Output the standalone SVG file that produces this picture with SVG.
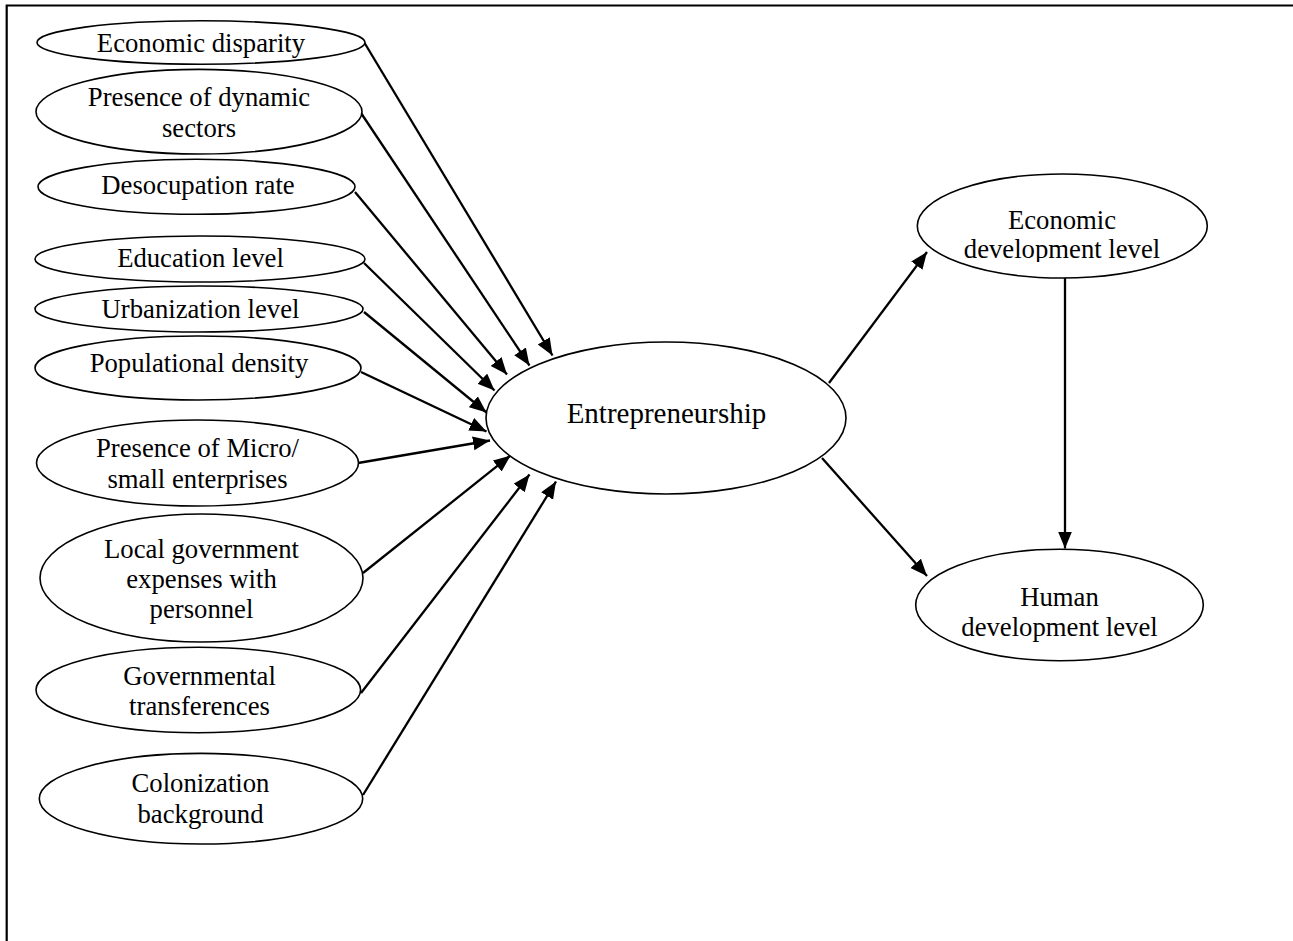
<svg xmlns="http://www.w3.org/2000/svg" width="1293" height="941" viewBox="0 0 1293 941">
<style>
.n ellipse{fill:#fff;stroke:#000;stroke-width:1.6}
text{font-family:"Liberation Serif","Times New Roman",serif;font-size:26.7px;fill:#000;text-anchor:middle}
.e line{stroke:#000;stroke-width:2.3;marker-end:url(#ah)}
.frame{stroke:#000;stroke-width:2.2;fill:none}
</style>
<defs>
<marker id="ah" markerUnits="userSpaceOnUse" markerWidth="19" markerHeight="15" refX="17" refY="7" orient="auto">
<path d="M0,0 L17,7 L0,14 z" fill="#000"/>
</marker>
<clipPath id="clipEco"><rect x="900" y="160" width="320" height="102"/></clipPath>
</defs>
<rect width="1293" height="941" fill="#fff"/>
<path class="frame" d="M6.7,941 L6.7,5.5 L1293,5.5"/>
<g class="e" id="connectors">
<line x1="364" y1="42" x2="552.5" y2="355.5"/>
<line x1="361" y1="113" x2="529.5" y2="365.5"/>
<line x1="355" y1="192" x2="507" y2="374.5"/>
<line x1="364" y1="263" x2="494.5" y2="390.5"/>
<line x1="364" y1="312" x2="486.5" y2="412.5"/>
<line x1="361" y1="372" x2="486.5" y2="431.5"/>
<line x1="358" y1="463" x2="490" y2="440.5"/>
<line x1="363" y1="573" x2="510.5" y2="455.5"/>
<line x1="361" y1="693" x2="529.5" y2="474.5"/>
<line x1="363" y1="795" x2="556" y2="481.5"/>
<line x1="829" y1="383" x2="927" y2="252"/>
<line x1="822" y1="458" x2="927" y2="576"/>
<line x1="1065" y1="276" x2="1065" y2="548.5"/>
</g>
<g class="n" id="n-economic-disparity"><ellipse cx="201" cy="42.5" rx="164" ry="21.7"/><text x="201" y="51.7">Economic disparity</text></g>
<g class="n" id="n-dynamic-sectors"><ellipse cx="199" cy="111.7" rx="163" ry="42.3"/><text x="199" y="106">Presence of dynamic</text><text x="199" y="136.7">sectors</text></g>
<g class="n" id="n-desocupation"><ellipse cx="196.5" cy="186.8" rx="158.5" ry="27.5"/><text x="198" y="194">Desocupation rate</text></g>
<g class="n" id="n-education"><ellipse cx="200" cy="259" rx="165" ry="23"/><text x="200.5" y="267.3">Education level</text></g>
<g class="n" id="n-urbanization"><ellipse cx="199" cy="309" rx="164" ry="23"/><text x="200.5" y="317.7">Urbanization level</text></g>
<g class="n" id="n-populational"><ellipse cx="198" cy="368" rx="163" ry="32"/><text x="199" y="371.7">Populational density</text></g>
<g class="n" id="n-micro"><ellipse cx="197.5" cy="463" rx="161" ry="43"/><text x="197.5" y="457.3">Presence of Micro/</text><text x="197.5" y="488.3">small enterprises</text></g>
<g class="n" id="n-local-gov"><ellipse cx="201.5" cy="578" rx="161.5" ry="64"/><text x="201.5" y="558.3">Local government</text><text x="201.5" y="588.3">expenses with</text><text x="201.5" y="618.3">personnel</text></g>
<g class="n" id="n-transferences"><ellipse cx="198.3" cy="690" rx="162.3" ry="42.7"/><text x="199.5" y="685">Governmental</text><text x="199.5" y="715">transferences</text></g>
<g class="n" id="n-colonization"><ellipse cx="201" cy="798.7" rx="161.7" ry="45.3"/><text x="200.5" y="791.7">Colonization</text><text x="200.5" y="822.7">background</text></g>
<g class="n" id="n-entrepreneurship"><ellipse cx="666" cy="418" rx="180" ry="76"/><text x="666.5" y="423" style="font-size:29px">Entrepreneurship</text></g>
<g class="n" id="n-economic-dev"><ellipse cx="1062.3" cy="226" rx="145" ry="52"/><g clip-path="url(#clipEco)"><text x="1062" y="229.3">Economic</text><text x="1062" y="258.3">development level</text></g></g>
<g class="n" id="n-human-dev"><ellipse cx="1059.5" cy="605" rx="143.8" ry="55.7"/><text x="1059.5" y="606">Human</text><text x="1059.5" y="636">development level</text></g>
</svg>
